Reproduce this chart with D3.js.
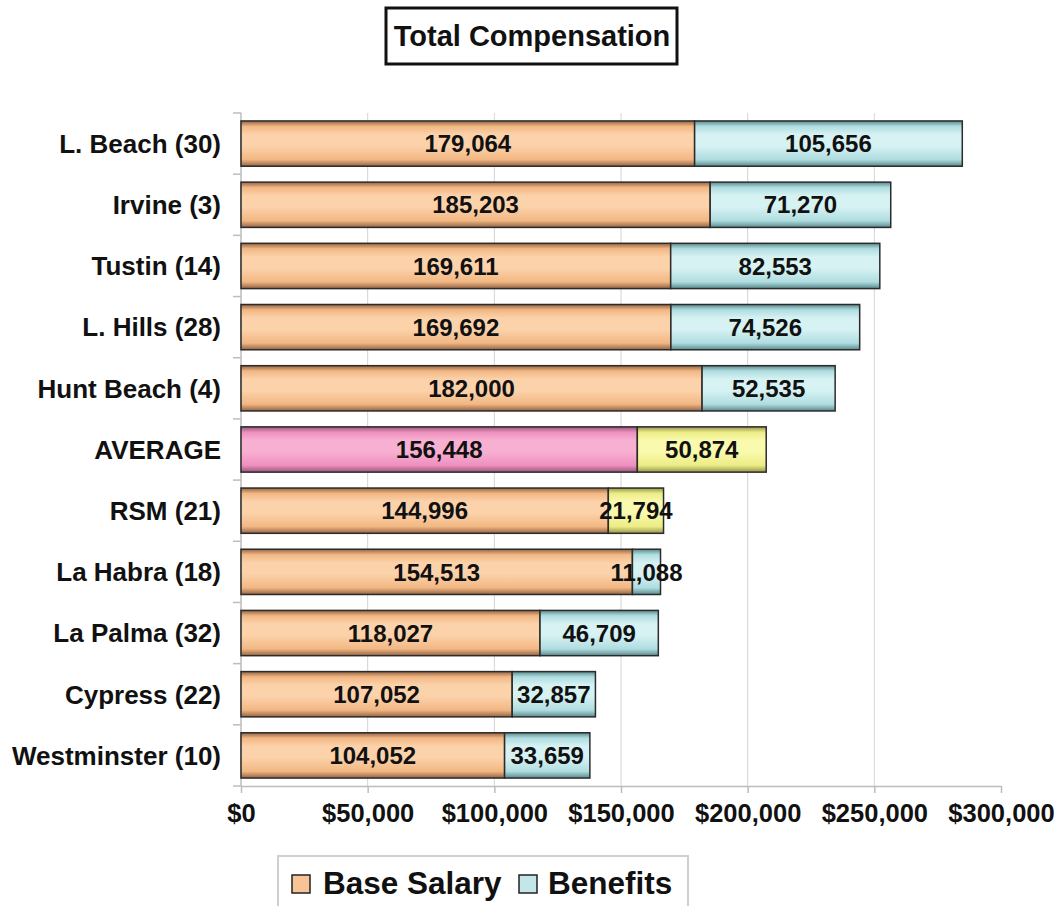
<!DOCTYPE html>
<html>
<head>
<meta charset="utf-8">
<script src="https://cdn.jsdelivr.net/npm/d3@7"></script>
<style>
  html, body { margin: 0; padding: 0; background: #fff; }
  svg { display: block; font-family: "Liberation Sans", Arial, sans-serif; font-weight: bold; }
</style>
</head>
<body>
<svg id="chart" width="1060" height="906"></svg>
<script>
// Cities (number of positions in parentheses), top to bottom
const categories = ["L. Beach (30)", "Irvine (3)", "Tustin (14)", "L. Hills (28)", "Hunt Beach (4)",
  "AVERAGE", "RSM (21)", "La Habra (18)", "La Palma (32)", "Cypress (22)", "Westminster (10)"];
const baseSalary = [179064, 185203, 169611, 169692, 182000, 156448, 144996, 154513, 118027, 107052, 104052];
const benefits = [105656, 71270, 82553, 74526, 52535, 50874, 21794, 11088, 46709, 32857, 33659];
const xTicks = [0, 50000, 100000, 150000, 200000, 250000, 300000];
const seriesNames = ["Base Salary", "Benefits"];

const svg = d3.select("#chart");
const plotLeft = 241, plotRight = 1001, plotTop = 113, plotBottom = 786;

const x = d3.scaleLinear().domain([0, 300000]).range([plotLeft, plotRight]);
const y = d3.scaleBand().domain(categories).range([plotTop, plotBottom]).paddingInner(0.26).paddingOuter(0.13);

// Fill palettes: [edge, light, mid]
const palettes = {
  salary: ["#946444", "#fcd2aa", "#f2b783"],
  benefit: ["#5a8a8e", "#d6f2f3", "#b0dde0"],
  pink: ["#98567a", "#f8b0d2", "#ee90be"],
  yellow: ["#96964c", "#fafaae", "#ecec86"]
};
const defs = svg.append("defs");
Object.entries(palettes).forEach(([k, c]) => {
  const g = defs.append("linearGradient").attr("id", "g-" + k)
    .attr("x1", 0).attr("y1", 0).attr("x2", 0).attr("y2", 1);
  [[0, c[0]], [0.12, c[2]], [0.3, c[1]], [0.55, c[1]], [0.85, c[2]], [1, c[0]]]
    .forEach(([o, col]) => g.append("stop").attr("offset", o).attr("stop-color", col));
});

// Vertical gridlines
svg.append("g").selectAll("line").data(xTicks.filter(d => d > 0 && d < 300000)).join("line")
  .attr("x1", d => x(d)).attr("x2", d => x(d)).attr("y1", plotTop).attr("y2", plotBottom)
  .attr("stroke", "#d4d4d4").attr("stroke-width", 1);

// Bottom axis
const xAxis = svg.append("g").attr("transform", `translate(0,${plotBottom})`)
  .call(d3.axisBottom(x).tickValues(xTicks).tickSizeInner(7).tickSizeOuter(0)
    .tickFormat(d => "$" + d3.format(",")(d)));
xAxis.select(".domain").attr("stroke", "#bdbdbd").attr("stroke-width", 1.5);
xAxis.selectAll(".tick line").attr("stroke", "#bdbdbd").attr("stroke-width", 1.5);
xAxis.selectAll(".tick text").attr("font-size", 25.5).attr("font-weight", "bold")
  .attr("fill", "#111").attr("font-family", "Liberation Sans, Arial, sans-serif").attr("dy", "1.0em");

// Left axis with ticks between categories
const yAxis = svg.append("g").attr("transform", `translate(${plotLeft},0)`);
yAxis.append("line").attr("x1", 0).attr("x2", 0).attr("y1", plotTop).attr("y2", plotBottom)
  .attr("stroke", "#bdbdbd").attr("stroke-width", 1.5);
const bounds = categories.map(c => y(c) - y.step() * y.paddingInner() / 2);
bounds.push(plotBottom);
bounds[0] = plotTop;
yAxis.selectAll(".yt").data(bounds).join("line").attr("class", "yt")
  .attr("x1", -8).attr("x2", 0).attr("y1", d => d).attr("y2", d => d)
  .attr("stroke", "#bdbdbd").attr("stroke-width", 1.5);

svg.append("g").selectAll("text").data(categories).join("text")
  .attr("x", 221).attr("y", d => y(d) + y.bandwidth() / 2).attr("dy", "0.36em")
  .attr("text-anchor", "end").attr("font-size", 26).attr("fill", "#111").text(d => d);

// Stacked bars
const rows = categories.map((c, i) => ({ c, i, base: baseSalary[i], ben: benefits[i] }));
const baseFill = r => r.c === "AVERAGE" ? "url(#g-pink)" : "url(#g-salary)";
const benFill = r => (r.c === "AVERAGE" || r.c === "RSM (21)") ? "url(#g-yellow)" : "url(#g-benefit)";

const bars = svg.append("g");
bars.selectAll(".base").data(rows).join("rect").attr("class", "base")
  .attr("x", x(0)).attr("y", r => y(r.c)).attr("width", r => x(r.base) - x(0)).attr("height", y.bandwidth())
  .attr("fill", baseFill).attr("stroke", "#2b2b2b").attr("stroke-width", 1.5);
bars.selectAll(".ben").data(rows).join("rect").attr("class", "ben")
  .attr("x", r => x(r.base)).attr("y", r => y(r.c)).attr("width", r => x(r.base + r.ben) - x(r.base)).attr("height", y.bandwidth())
  .attr("fill", benFill).attr("stroke", "#2b2b2b").attr("stroke-width", 1.5);

// Value labels centred in each segment
const fmt = d3.format(",");
const labels = svg.append("g").attr("font-size", 24).attr("fill", "#111").attr("text-anchor", "middle");
labels.selectAll(".lb").data(rows).join("text").attr("class", "lb")
  .attr("x", r => (x(0) + x(r.base)) / 2).attr("y", r => y(r.c) + y.bandwidth() / 2).attr("dy", "0.36em")
  .text(r => fmt(r.base));
labels.selectAll(".lbn").data(rows).join("text").attr("class", "lbn")
  .attr("x", r => (x(r.base) + x(r.base + r.ben)) / 2).attr("y", r => y(r.c) + y.bandwidth() / 2).attr("dy", "0.36em")
  .text(r => fmt(r.ben));

// Title box
svg.append("rect").attr("x", 386).attr("y", 8).attr("width", 291).attr("height", 56)
  .attr("fill", "#fff").attr("stroke", "#111").attr("stroke-width", 3);
svg.append("text").attr("x", 532).attr("y", 46).attr("text-anchor", "middle")
  .attr("font-size", 29).attr("fill", "#111").text("Total Compensation");

// Legend
const legend = svg.append("g");
legend.append("rect").attr("x", 278).attr("y", 856).attr("width", 410).attr("height", 70)
  .attr("fill", "#fff").attr("stroke", "#cfcfcf").attr("stroke-width", 2);
const legendItems = [
  { name: seriesNames[0], sx: 292, tx: 323, col: "#f8c497" },
  { name: seriesNames[1], sx: 519, tx: 548, col: "#c3e7e8" }
];
legend.selectAll(".sw").data(legendItems).join("rect").attr("class", "sw")
  .attr("x", d => d.sx).attr("y", 875).attr("width", 18).attr("height", 18)
  .attr("fill", d => d.col).attr("stroke", "#222").attr("stroke-width", 1.5);
legend.selectAll(".lt").data(legendItems).join("text").attr("class", "lt")
  .attr("x", d => d.tx).attr("y", 894).attr("font-size", 31.5).attr("fill", "#111").text(d => d.name);
</script>
</body>
</html>
